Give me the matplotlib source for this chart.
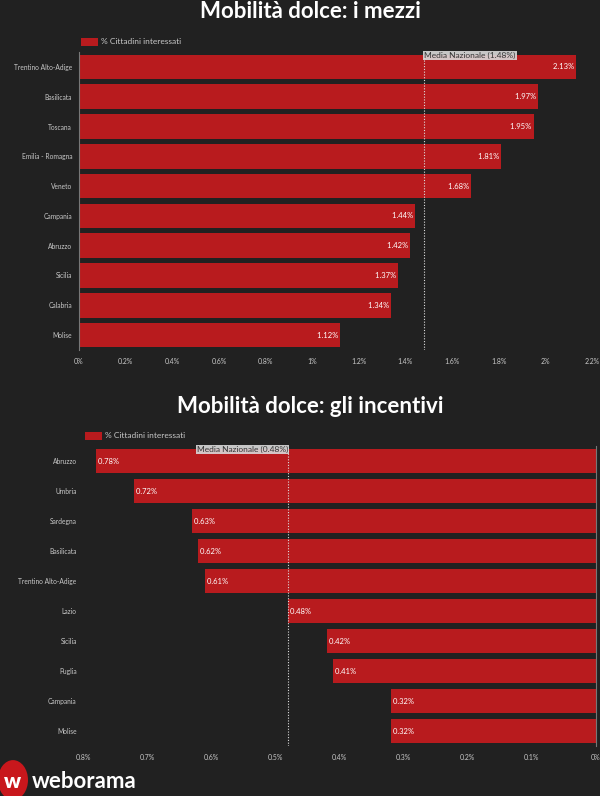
import matplotlib
matplotlib.use("Agg")
import matplotlib.pyplot as plt
from matplotlib.patches import Circle
from matplotlib.ticker import FuncFormatter

# data: i mezzi
regioni_mezzi = ["Trentino Alto-Adige", "Basilicata", "Toscana", "Emilia - Romagna", "Veneto",
                 "Campania", "Abruzzo", "Sicilia", "Calabria", "Molise"]
valori_mezzi = [2.13, 1.97, 1.95, 1.81, 1.68, 1.44, 1.42, 1.37, 1.34, 1.12]
media_mezzi = 1.48

# data: gli incentivi
regioni_incentivi = ["Abruzzo", "Umbria", "Sardegna", "Basilicata", "Trentino Alto-Adige",
                     "Lazio", "Sicilia", "Puglia", "Campania", "Molise"]
valori_incentivi = [0.78, 0.72, 0.63, 0.62, 0.61, 0.48, 0.42, 0.41, 0.32, 0.32]
media_incentivi = 0.48

BG = "#212121"
RED = "#b81b1e"
GREY = "#c8c8c8"
W, H = 600, 796

plt.rcParams['font.family'] = ['Lato', 'DejaVu Sans']

fig = plt.figure(figsize=(6, 7.96), dpi=100, facecolor=BG)


def fmt(v, _=None):
    s = ("%.1f" % v).rstrip("0").rstrip(".")
    return s + "%"


def draw(ax, regioni, valori, media, xmax, reverse, titolo, title_y):
    ax.set_facecolor(BG)
    y = list(range(len(regioni)))
    ax.barh(y, valori, height=0.82, color=RED, zorder=2)
    ax.set_ylim(len(regioni) - 0.5, -0.5)
    ax.set_xlim(0, xmax)
    if reverse:
        ax.invert_xaxis()
    ax.set_yticks(y)
    ax.set_yticklabels(regioni, color=GREY, fontsize=4.8)
    ax.set_xticks([i / 10 for i in range(0, int(round(xmax * 10)) + 1, 2 if xmax > 1 else 1)])
    ax.xaxis.set_major_formatter(FuncFormatter(fmt))
    ax.tick_params(axis='x', colors=GREY, labelsize=5, length=0, pad=6)
    ax.tick_params(axis='y', length=0, pad=4.5 if reverse else 5)
    for s in ax.spines.values():
        s.set_visible(False)
    side = 'right' if reverse else 'left'
    ax.spines[side].set_visible(True)
    ax.spines[side].set_color("#777777")
    ax.spines[side].set_linewidth(0.8)

    for yi, v in zip(y, valori):
        lab = ("%.2f" % v) + "%"
        if reverse:
            ax.text(v, yi, " " + lab, ha='left', va='center', color='white', fontsize=5.5, zorder=3)
        else:
            ax.text(v, yi, lab + " ", ha='right', va='center', color='white', fontsize=5.5, zorder=3)

    ax.axvline(media, color="#dddddd", lw=0.8, ls=(0, (1, 1.5)), zorder=3)
    ax.text(media, -0.5, "Media Nazionale (" + ("%.2f" % media) + "%)",
            ha='left' if not reverse else 'right', va='top', fontsize=6, color="#333333",
            bbox=dict(boxstyle='square,pad=0.15', fc="#d9d9d9", ec='none', alpha=0.9), zorder=4)

    leg = ax.legend([plt.Rectangle((0, 0), 1, 1, fc=RED)], ["% Cittadini interessati"],
                    loc='lower left', bbox_to_anchor=(-0.005, 1.005), frameon=False,
                    fontsize=6, handlelength=2.0, handleheight=1.1, handletextpad=0.4,
                    borderaxespad=0.2)
    for t in leg.get_texts():
        t.set_color(GREY)

    fig.text(310 / W, title_y, titolo, ha='center', va='center', color='white',
             fontsize=16, fontweight='bold')


ax1 = fig.add_axes([79 / W, 1 - 350 / H, (592 - 79) / W, 298 / H])
draw(ax1, regioni_mezzi, valori_mezzi, media_mezzi, 2.2, False,
     "Mobilità dolce: i mezzi", 1 - 11 / H)

ax2 = fig.add_axes([83 / W, 1 - 746 / H, (596 - 83) / W, 300 / H])
draw(ax2, regioni_incentivi, valori_incentivi, media_incentivi, 0.8, True,
     "Mobilità dolce: gli incentivi", 1 - 406 / H)

# weborama logo
fig.patches.append(Circle((13 / W, 1 - 780 / H), 15 / W, transform=fig.transFigure,
                          fc="#c8171c", ec='none'))
fig.text(13 / W, 1 - 782 / H, "w", ha='center', va='center', color='white',
         fontsize=15, fontweight='heavy')
fig.text(32 / W, 1 - 782 / H, "weborama", ha='left', va='center', color='white',
         fontsize=16, fontweight='bold')

fig.savefig("out.png", dpi=100, facecolor=BG)
